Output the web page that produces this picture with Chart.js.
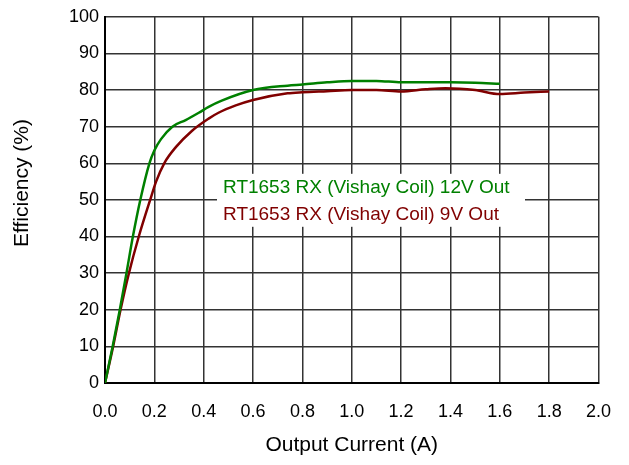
<!DOCTYPE html>
<html>
<head>
<meta charset="utf-8">
<script src="https://cdn.jsdelivr.net/npm/chart.js@4/dist/chart.umd.min.js"></script>
<style>
  html, body { margin: 0; padding: 0; background: #fff; }
  #wrap { width: 629px; height: 465px; }
</style>
</head>
<body>
<div id="wrap"><canvas id="c" width="629" height="465"></canvas></div>
<script>
// Data
const seriesNames = ["RT1653 RX (Vishay Coil) 12V Out", "RT1653 RX (Vishay Coil) 9V Out"];
const green12V_x = [0, 0.031, 0.06, 0.087, 0.113, 0.143, 0.18, 0.2, 0.227, 0.273, 0.327, 0.38, 0.42, 0.473, 0.6, 0.74, 0.8, 0.9, 1.0, 1.1, 1.2, 1.3, 1.4, 1.5, 1.6];
const green12V_y = [0, 10, 20, 30, 40, 50, 60, 63.5, 66.6, 70, 71.8, 73.8, 75.4, 77.1, 80, 81.2, 81.5, 82.1, 82.5, 82.5, 82.1, 82.1, 82.1, 82.0, 81.7];
const red9V_x = [0, 0.033, 0.063, 0.097, 0.137, 0.183, 0.207, 0.24, 0.287, 0.353, 0.42, 0.46, 0.53, 0.6, 0.74, 0.8, 0.9, 1.0, 1.1, 1.2, 1.3, 1.38, 1.5, 1.6, 1.7, 1.8];
const red9V_y = [0, 10, 20, 30, 40, 50, 55.0, 60, 64.4, 68.9, 72.2, 73.8, 75.8, 77.3, 79.1, 79.4, 79.7, 80.0, 80.0, 79.6, 80.2, 80.5, 80.0, 78.9, 79.3, 79.6];
const xTicks = [0, 0.2, 0.4, 0.6, 0.8, 1.0, 1.2, 1.4, 1.6, 1.8, 2.0];
const yTicks = [0, 10, 20, 30, 40, 50, 60, 70, 80, 90, 100];
const xTitle = "Output Current (A)";
const yTitle = "Efficiency (%)";

const colors = ["#008000", "#800000"];
const FONT = "'Liberation Sans', Arial, sans-serif";

function pts(xs, ys) { return xs.map((x, i) => ({ x: x, y: ys[i] })); }

const legendPlugin = {
  id: 'boxLegend',
  afterDatasetsDraw(chart) {
    const ctx = chart.ctx;
    const a = chart.chartArea;
    const x0 = a.left + 112, y0 = a.top + 157, w = 308, h = 53;
    ctx.save();
    ctx.fillStyle = '#ffffff';
    ctx.fillRect(x0, y0, w, h);
    ctx.font = "19px " + FONT;
    ctx.textBaseline = 'middle';
    ctx.textAlign = 'left';
    chart.data.datasets.forEach((ds, i) => {
      ctx.fillStyle = ds.borderColor;
      ctx.fillText(ds.label, x0 + 6, y0 + 14 + i * 26.5);
    });
    ctx.restore();
  }
};

const yTitlePlugin = {
  id: 'yTitle',
  afterDraw(chart) {
    const ctx = chart.ctx;
    ctx.save();
    ctx.translate(22, 183);
    ctx.rotate(-Math.PI / 2);
    ctx.font = "21px " + FONT;
    ctx.fillStyle = '#000';
    ctx.textAlign = 'center';
    ctx.textBaseline = 'middle';
    ctx.fillText(yTitle, 0, 0);
    ctx.restore();
  }
};

new Chart(document.getElementById('c'), {
  type: 'scatter',
  data: {
    datasets: [
      { label: seriesNames[0], data: pts(green12V_x, green12V_y), showLine: true, borderColor: colors[0], backgroundColor: colors[0], borderWidth: 2.5, pointRadius: 0, cubicInterpolationMode: 'monotone' },
      { label: seriesNames[1], data: pts(red9V_x, red9V_y), showLine: true, borderColor: colors[1], backgroundColor: colors[1], borderWidth: 2.5, pointRadius: 0, cubicInterpolationMode: 'monotone' }
    ]
  },
  options: {
    responsive: false,
    animation: false,
    devicePixelRatio: 1,
    layout: { padding: { left: 0, right: 29, top: 16, bottom: 0 } },
    plugins: { legend: { display: false }, tooltip: { enabled: false } },
    scales: {
      x: {
        type: 'linear', min: 0, max: 2,
        afterBuildTicks(s) { s.ticks = xTicks.map(v => ({ value: v })); },
        afterFit(s) { s.height = 82; },
        ticks: { color: '#000', font: { family: FONT, size: 18 }, padding: 18, maxRotation: 0, callback: v => Number(v).toFixed(1) },
        grid: { color: '#333', lineWidth: 1.5, drawTicks: false },
        border: { color: '#000', width: 2 },
        title: { display: true, text: xTitle, color: '#000', font: { family: FONT, size: 21 }, padding: { top: 0, bottom: 7 } }
      },
      y: {
        type: 'linear', min: 0, max: 100,
        afterBuildTicks(s) { s.ticks = yTicks.map(v => ({ value: v })); },
        afterFit(s) { s.width = 105; },
        ticks: { color: '#000', font: { family: FONT, size: 18 }, padding: 6 },
        grid: { color: '#333', lineWidth: 1.5, drawTicks: false },
        border: { color: '#000', width: 2 }
      }
    }
  },
  plugins: [legendPlugin, yTitlePlugin]
});
</script>
</body>
</html>
